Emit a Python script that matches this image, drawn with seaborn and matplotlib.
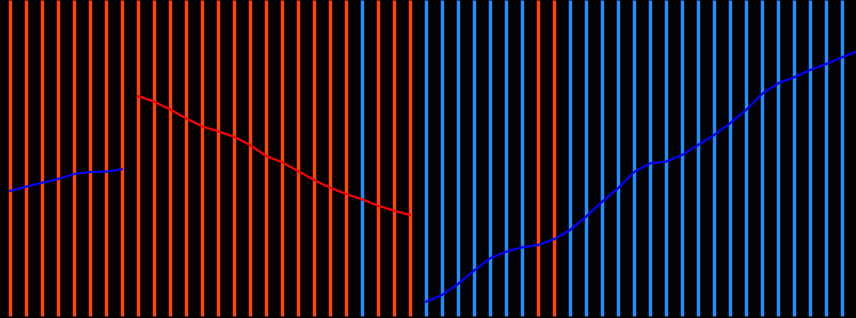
import numpy as np
import pandas as pd
import seaborn as sns
import matplotlib
matplotlib.use("Agg")
import matplotlib.pyplot as plt

# ---- data ----
# stripe direction for each period
stripe_dir = (["down"] * 22 + ["up"] + ["down"] * 3 + ["up"] * 7 +
              ["down"] * 2 + ["up"] * 19)
# line values (three regimes)
seg_a = [127, 131.3, 135.3, 139, 144, 146, 146.3, 148.7]
seg_b = [222, 216.3, 208.7, 199.7, 191.7, 186.7, 181.3, 173, 162, 155.7,
         147, 138, 130.3, 124, 118.7, 112.3, 107.3, 103]
seg_c = [16.3, 23, 34, 47.3, 59.7, 66.3, 70.7, 73, 78.7, 88, 101.3, 116.3,
         129.7, 146, 154.7, 156.3, 163, 173, 183, 194.7, 208, 224, 234.7,
         240.7, 248, 254, 260.7, 267]
seg_names = ["A", "B", "C"]
seg_colors = {"A": "#0000ff", "B": "#ff0000", "C": "#0000ff"}
stripe_colors = {"down": "#ff4500", "up": "#1e90ff"}

values = seg_a + seg_b + seg_c
segs = (["A"] * len(seg_a) + ["B"] * len(seg_b) + ["C"] * len(seg_c))
df = pd.DataFrame({"idx": np.arange(len(values)), "value": values, "seg": segs})

sns.set_theme(style="white")
fig = plt.figure(figsize=(8.56, 3.18), dpi=100, facecolor="black")
ax = fig.add_axes([0, 0, 1, 1])
ax.set_facecolor("black")

# stripes
ax.vlines(np.arange(len(stripe_dir)), 2, 318,
          colors=[stripe_colors[d] for d in stripe_dir], linewidth=2.5)

sns.lineplot(data=df, x="idx", y="value", hue="seg", palette=seg_colors,
             hue_order=seg_names, linewidth=1.6, legend=False, ax=ax)

ax.set_xlim(-0.625, 52.875)
ax.set_ylim(0, 318)
ax.set_axis_off()

fig.savefig("out.png", dpi=100, facecolor="black")
